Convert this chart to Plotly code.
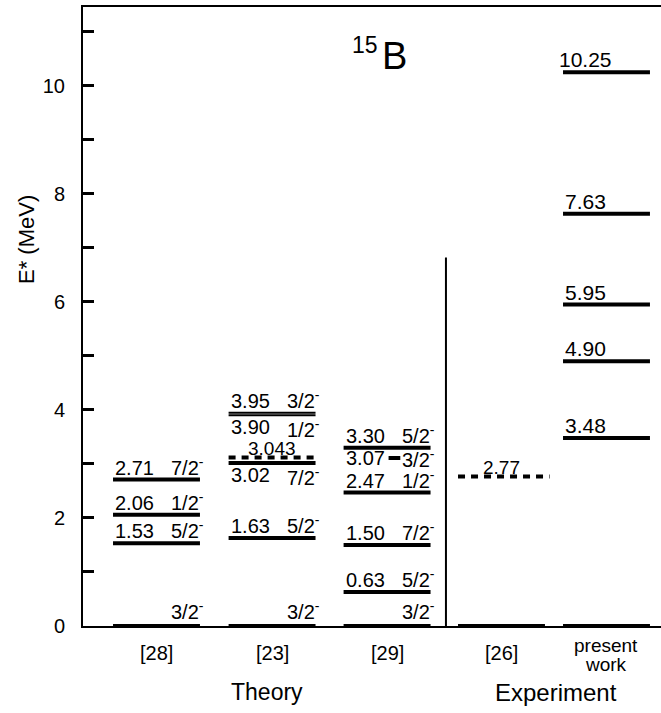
import plotly.graph_objects as go

# ---------------- data ----------------
columns = ["[28]", "[23]", "[29]", "[26]", "present<br>work"]
groups = ["Theory", "Experiment"]

E28 = [0, 1.53, 2.06, 2.71]
J28 = ["3/2", "5/2", "1/2", "7/2"]

E23 = [0, 1.63, 3.02, 3.043, 3.90, 3.95]
J23 = ["3/2", "5/2", "7/2", "", "1/2", "3/2"]

E29 = [0, 0.63, 1.50, 2.47, 3.07, 3.30]
J29 = ["3/2", "5/2", "7/2", "1/2", "3/2", "5/2"]

E26 = [0, 2.77]
J26 = ["", ""]

EPW = [0, 3.48, 4.90, 5.95, 7.63, 10.25]
JPW = ["", "", "", "", "", ""]

y_ticks = list(range(0, 12))
y_ticktext = [str(v) if v % 2 == 0 else "" for v in y_ticks]

# ---------------- styles ----------------
FONT = "Liberation Sans"
COL_X = [0, 1.005, 2.005, 3.0, 3.913]   # layout position of each column
HW = 0.378          # half width of a level line (x units)
LW = 4
# per (column, level index): (line style, label placement, display offset)
style = {
    (1, 2): ("solid", "below", 0.0),
    (1, 3): ("dash", "center_above", 0.077),
    (1, 4): ("thin", "below", 0.0),
    (1, 5): ("thin", "above", 0.0),
    (2, 4): ("short", "inline", 0.04),
    (3, 1): ("dash", "center_above", 0.0),
}

fig = go.Figure()
ann = []

def fmt(e):
    s = f"{e:.3f}".rstrip("0")
    if len(s.split(".")[1]) < 2:
        s = f"{e:.2f}"
    return s

ABOVE_SHIFT = -1
all_cols = [(E28, J28), (E23, J23), (E29, J29), (E26, J26), (EPW, JPW)]
for ci, (Es, Js) in enumerate(all_cols):
    cx = COL_X[ci]
    for li, (e, j) in enumerate(zip(Es, Js)):
        kind, place, dy = style.get((ci, li), ("solid", "above", 0.0))
        if ci == 4 and li > 0:
            place = "num_above"
        yv = e + dy
        x0, x1 = cx - HW, cx + HW
        line = dict(color="black", width=LW)
        if kind == "thin":
            line["width"] = 2
        elif kind == "dash":
            line["dash"] = "7px,6px"
        elif kind == "short":
            x0, x1 = cx + 0.013, cx + 0.115
        if ci == 3 and li == 1:
            x0, x1 = cx - HW, cx + HW + 0.04
        fig.add_trace(go.Scatter(x=[x0, x1], y=[yv, yv], mode="lines", line=line,
                                 cliponaxis=False, showlegend=False, hoverinfo="skip"))
        num = fmt(e)
        spin = f"{j}<sup>-</sup>" if j else ""
        f = dict(family=FONT, size=20, color="black")
        if e == 0:
            if spin:
                ann.append(dict(x=cx + HW, y=yv, text=spin, xanchor="right", yanchor="bottom",
                                xshift=6, yshift=1, font=f, showarrow=False))
            continue
        if place in ("above", "below"):
            ya = "bottom" if place == "above" else "top"
            ys = ABOVE_SHIFT if place == "above" else 1
            ann.append(dict(x=cx - HW, y=yv, text=num, xanchor="left", yanchor=ya,
                            yshift=ys, font=f, showarrow=False))
            ann.append(dict(x=cx + HW, y=yv, text=spin, xanchor="right", yanchor=ya,
                            xshift=6, yshift=ys, font=f, showarrow=False))
        elif place == "center_above":
            ann.append(dict(x=cx, y=yv, text=num, xanchor="center", yanchor="bottom",
                            yshift=-4, font=dict(family=FONT, size=19, color="black"),
                            showarrow=False))
        elif place == "inline":
            ann.append(dict(x=cx - HW, y=yv, text=num, xanchor="left", yanchor="middle",
                            font=f, showarrow=False))
            ann.append(dict(x=cx + HW, y=yv, text=spin, xanchor="right", yanchor="middle",
                            xshift=6, font=f, showarrow=False))
        elif place == "num_above":
            ann.append(dict(x=cx - HW, y=yv, text=num, xanchor="left", yanchor="bottom",
                            xshift=(-6 if e >= 10 else 0), yshift=ABOVE_SHIFT,
                            font=dict(family=FONT, size=21, color="black"), showarrow=False))

# separator between theory and experiment
fig.add_shape(type="line", x0=2.517, x1=2.517, y0=0, y1=6.82, xref="x", yref="y",
              line=dict(color="black", width=2))

# column labels
for ci, lab in enumerate(columns):
    parts = lab.split("<br>")
    if len(parts) == 1:
        ann.append(dict(x=COL_X[ci], y=-0.043, yref="paper", text=lab, xanchor="center",
                        yanchor="middle", font=dict(family=FONT, size=20, color="black"),
                        showarrow=False))
    else:
        for k, p in enumerate(parts):
            ann.append(dict(x=COL_X[ci], y=-0.031 - 0.032 * k, yref="paper", text=p,
                            xanchor="center", yanchor="middle",
                            font=dict(family=FONT, size=19, color="black"), showarrow=False))

# group labels
ann.append(dict(x=0.96, y=-0.107, yref="paper", text=groups[0], xanchor="center", yanchor="middle",
                font=dict(family=FONT, size=23, color="black"), showarrow=False))
ann.append(dict(x=3.47, y=-0.107, yref="paper", text=groups[1], xanchor="center", yanchor="middle",
                font=dict(family=FONT, size=24, color="black"), showarrow=False))

# title 15B
ann.append(dict(x=(380 - 83) / 578, y=(626 - 45) / 619, xref="paper", yref="paper", text="15",
                xanchor="right", yanchor="middle", font=dict(family=FONT, size=23, color="black"),
                showarrow=False))
ann.append(dict(x=(380 - 83) / 578, y=(626 - 56) / 619, xref="paper", yref="paper", text="B",
                xanchor="left", yanchor="middle", font=dict(family=FONT, size=38, color="black"),
                showarrow=False))

# y axis title
ann.append(dict(x=(26 - 83) / 578, y=(626 - 240) / 619, xref="paper", yref="paper", text="E* (MeV)",
                textangle=-90, xanchor="center", yanchor="middle",
                font=dict(family=FONT, size=22, color="black"), showarrow=False))

fig.update_layout(
    width=661, height=713,
    margin=dict(l=83, r=0, t=7, b=87),
    paper_bgcolor="white", plot_bgcolor="white",
    annotations=ann,
    xaxis=dict(range=[-0.639, 4.387], showline=True, mirror=True, linecolor="black", linewidth=2,
               showticklabels=False, ticks="", showgrid=False, zeroline=False),
    yaxis=dict(range=[0, 11.46], showline=True, linecolor="black", linewidth=2,
               tickvals=y_ticks, ticktext=y_ticktext, ticks="inside", ticklen=11, tickwidth=3,
               tickcolor="black", ticklabelstandoff=12,
               tickfont=dict(family=FONT, size=20, color="black"),
               showgrid=False, zeroline=False),
)

fig.write_html("out.html")
